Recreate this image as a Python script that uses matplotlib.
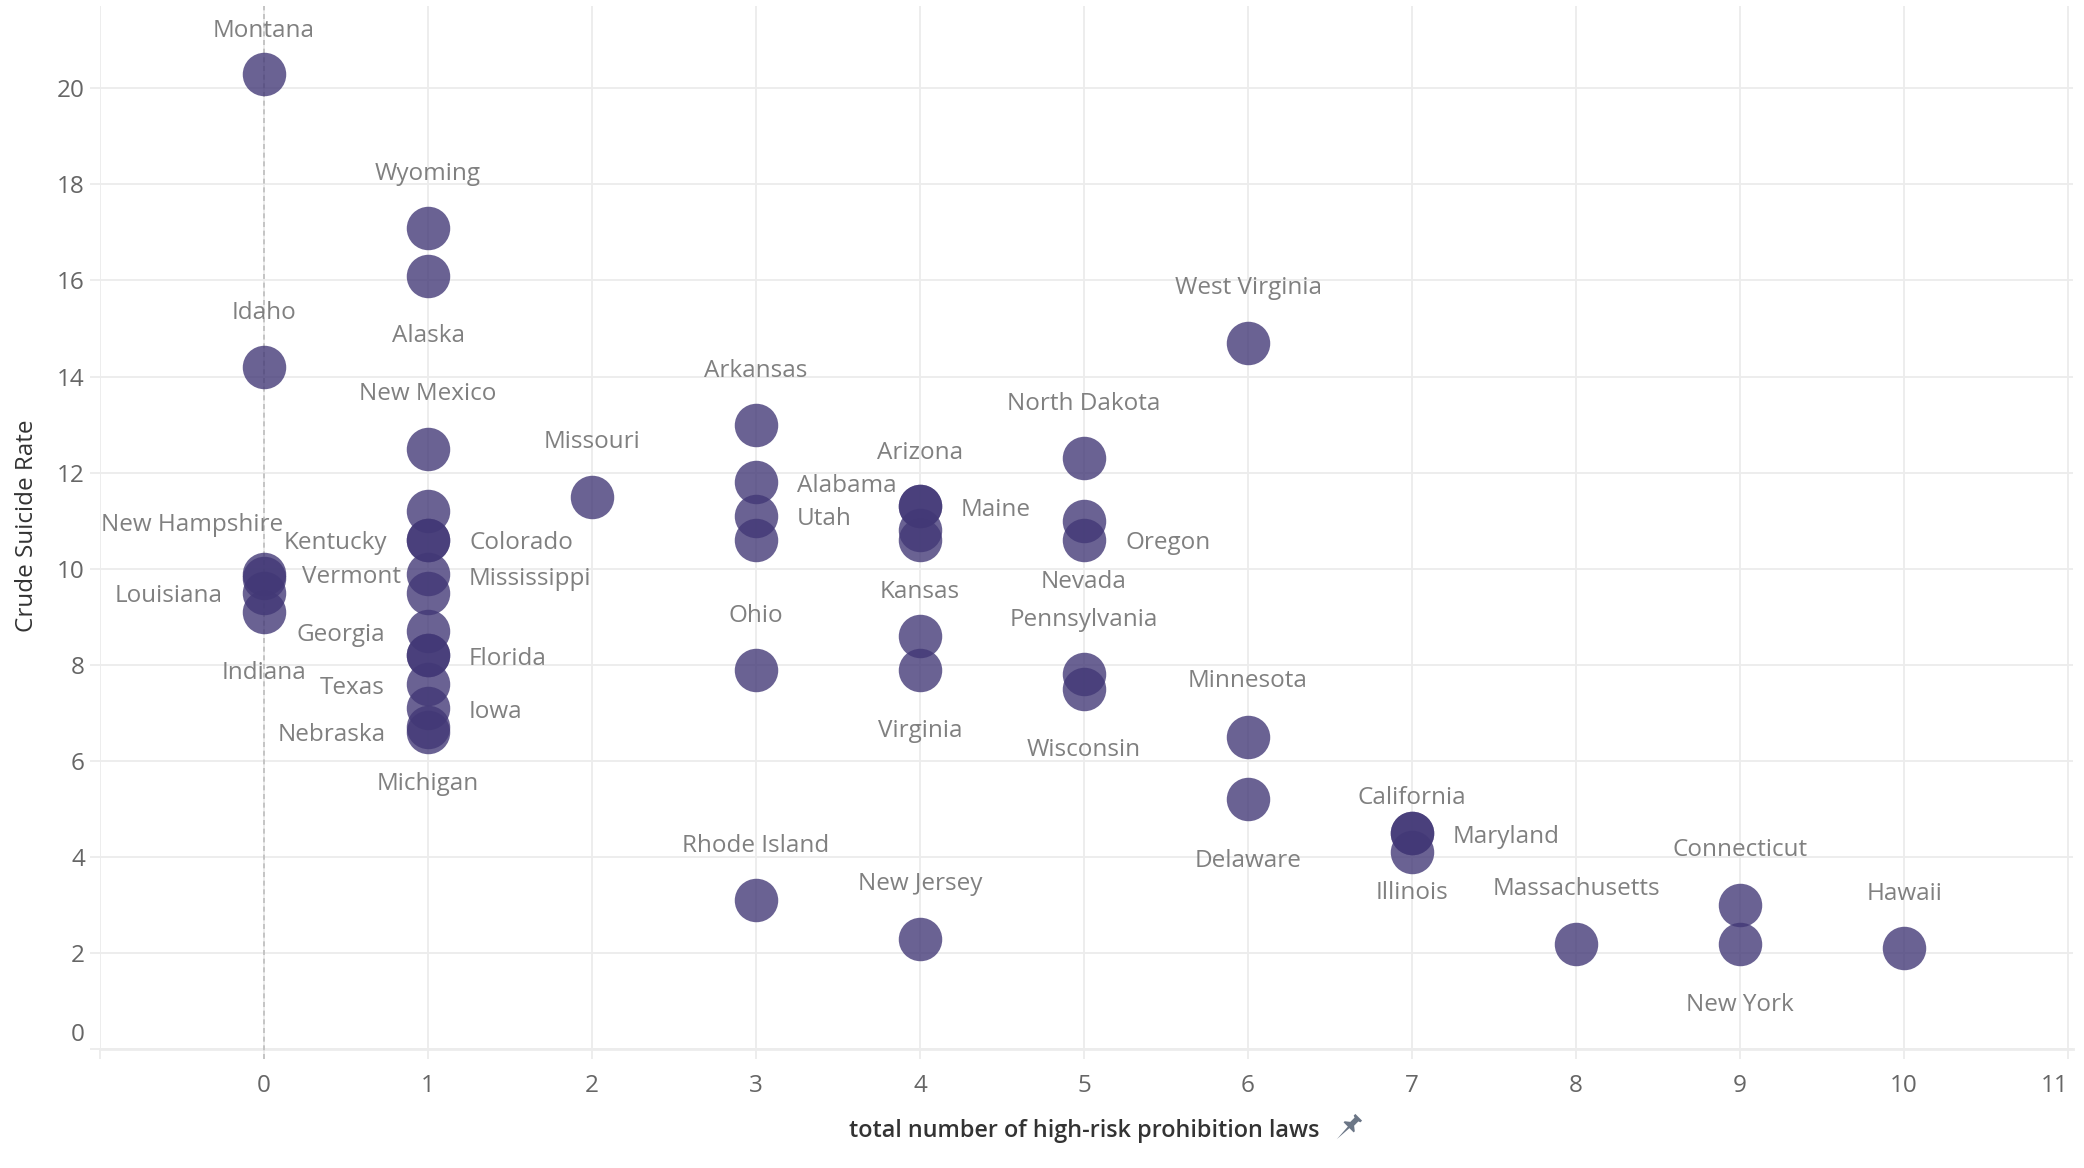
import numpy as np
import matplotlib
matplotlib.use("Agg")
import matplotlib.pyplot as plt
from matplotlib.path import Path

plt.rcParams['font.family'] = ['Open Sans', 'DejaVu Sans']

# ---------------- data ----------------
states = ["Montana", "Idaho", "New Hampshire", "", "Louisiana", "Indiana",
          "Wyoming", "Alaska", "New Mexico", "", "Kentucky", "Colorado",
          "Vermont", "Mississippi", "Georgia", "Florida", "", "Texas", "Iowa",
          "Nebraska", "Michigan",
          "Missouri",
          "Arkansas", "Alabama", "Utah", "", "Ohio", "Rhode Island",
          "Arizona", "Maine", "", "", "Kansas", "Virginia", "New Jersey",
          "North Dakota", "Nevada", "Oregon", "Pennsylvania", "Wisconsin",
          "West Virginia", "Minnesota", "Delaware",
          "California", "Maryland", "Illinois",
          "Massachusetts",
          "Connecticut", "New York",
          "Hawaii"]
laws = [0, 0, 0, 0, 0, 0,
        1, 1, 1, 1, 1, 1, 1, 1, 1, 1, 1, 1, 1, 1, 1,
        2,
        3, 3, 3, 3, 3, 3,
        4, 4, 4, 4, 4, 4, 4,
        5, 5, 5, 5, 5,
        6, 6, 6,
        7, 7, 7,
        8,
        9, 9,
        10]
rates = [20.3, 14.2, 9.9, 9.8, 9.5, 9.1,
         17.1, 16.1, 12.5, 11.2, 10.6, 10.6, 9.9, 9.5, 8.7, 8.2, 8.2, 7.6, 7.1, 6.7, 6.6,
         11.5,
         13.0, 11.8, 11.1, 10.6, 7.9, 3.1,
         11.3, 11.3, 10.8, 10.6, 8.6, 7.9, 2.3,
         12.3, 11.0, 10.6, 7.8, 7.5,
         14.7, 6.5, 5.2,
         4.5, 4.5, 4.1,
         2.2,
         3.0, 2.2,
         2.1]
x_ticks = list(range(-1, 12))
x_tick_labels = [""] + [str(i) for i in range(0, 12)]
y_ticks = list(range(0, 21, 2))
y_tick_labels = [str(v) for v in y_ticks]

# label placement (pixel offsets from mark centre)
UP, DN, LT, RT = "above", "below", "left", "right"
placement = {
    "Montana": (UP, 0, 46), "Idaho": (UP, 0, 57), "New Hampshire": ("free", -72, 52),
    "Louisiana": (LT, -41, 0), "Indiana": (DN, 0, -58),
    "Wyoming": (UP, 0, 57), "Alaska": (DN, 0, -57), "New Mexico": (UP, 0, 58),
    "Kentucky": (LT, -41, 0), "Colorado": (RT, 41, 0), "Vermont": (LT, -27, 0),
    "Mississippi": (RT, 41, 17), "Georgia": (LT, -43, 0), "Florida": (RT, 41, 0),
    "Texas": (LT, -43, 0), "Iowa": (RT, 41, 0), "Nebraska": (LT, -42, -4),
    "Michigan": (DN, 0, -48), "Missouri": (UP, 0, 58), "Arkansas": (UP, 0, 57),
    "Alabama": (RT, 41, 0), "Utah": (RT, 41, 0), "Ohio": (UP, 0, 57),
    "Rhode Island": (UP, 0, 58), "Arizona": (UP, 0, 57), "Maine": (RT, 41, 0),
    "Kansas": (UP, 0, 48), "Virginia": (DN, 0, -58), "New Jersey": (UP, 0, 58),
    "North Dakota": (UP, 0, 58), "Nevada": (DN, 0, -58), "Oregon": (RT, 41, 0),
    "Pennsylvania": (UP, 0, 58), "Wisconsin": (DN, 0, -58),
    "West Virginia": (UP, 0, 58), "Minnesota": (UP, 0, 59), "Delaware": (DN, 0, -58),
    "California": (UP, 0, 39), "Maryland": (RT, 41, 0), "Illinois": (DN, 0, -37),
    "Massachusetts": (UP, 0, 58), "Connecticut": (UP, 0, 59), "New York": (DN, 0, -58),
    "Hawaii": (UP, 0, 58),
}
LABEL_SHIFT_PX = -3.5  # visual centring correction

# ---------------- figure ----------------
W, H, DPI = 2084, 1168, 100
fig = plt.figure(figsize=(W / DPI, H / DPI), dpi=DPI)
left_px, right_px, top_px, bottom_px = 100, 2073, 6, 1049.3
ax = fig.add_axes([left_px / W, 1 - bottom_px / H, (right_px - left_px) / W, (bottom_px - top_px) / H])
ax.set_xlim(-1, 11.03)
ax.set_ylim(0, 21.71)

grid_c = "#ececec"
for s in ax.spines.values():
    s.set_visible(False)
ax.grid(True, color=grid_c, lw=1.3, zorder=0)
ax.set_axisbelow(True)
ax.axhline(0, color=grid_c, lw=2.0, clip_on=False, zorder=1)

px2pt = 72 / DPI
ax.set_xticks(x_ticks)
ax.set_xticklabels(x_tick_labels)
ax.set_yticks(y_ticks)
ax.set_yticklabels([""] + y_tick_labels[1:])
ax.tick_params(axis="both", length=10 * px2pt, width=1.3, color=grid_c,
               labelcolor="#666666", labelsize=17.5)
ax.tick_params(axis="y", pad=5 * px2pt)
ax.tick_params(axis="x", pad=15 * px2pt)
xt = ax.get_xticklabels()
xt[-1].set_ha("right")

ytrans = ax.get_yaxis_transform()
ax.annotate(y_tick_labels[0], xy=(0, 0), xycoords=ytrans, xytext=(-15 * px2pt, 2 * px2pt),
            textcoords="offset points", ha="right", va="bottom", fontsize=17.5, color="#666666",
            annotation_clip=False)

# reference line at zero
ax.axvline(0, ymin=-10 / (bottom_px - top_px), ymax=1, color="#bdbdbd", lw=1.2,
           ls=(0, (3, 2.2)), clip_on=False, zorder=1)

# marks
ax.scatter(laws, rates, s=980, color="#423876", alpha=0.79, linewidths=0, zorder=3)

# labels
for name, xv, yv in zip(states, laws, rates):
    if not name:
        continue
    pos, dx, dy = placement[name]
    ha = {"left": "right", "right": "left"}.get(pos, "center")
    ax.annotate(name, (xv, yv), xytext=(dx * px2pt, (dy + LABEL_SHIFT_PX) * px2pt),
                textcoords="offset points", ha=ha, va="center", fontsize=17.5,
                color="#808080", zorder=4)

# axis titles
fig.text(1084 / W, 1 - 1131 / H, "total number of high-risk prohibition laws",
         ha="center", va="center", fontsize=16.8, fontweight="semibold", color="#333333")
fig.text(26.6 / W, 1 - 525.6 / H, "Crude Suicide Rate", rotation=90,
         ha="center", va="center", fontsize=17.5, fontweight="medium", color="#333333")

# pin icon next to the x title
verts = np.array([(-0.3, 1.0), (0.3, 1.0), (0.3, 0.85), (0.17, 0.8), (0.17, 0.42),
                  (0.45, 0.2), (0.45, 0.1), (0.07, 0.1), (0.0, -0.95), (-0.07, 0.1),
                  (-0.45, 0.1), (-0.45, 0.2), (-0.17, 0.42), (-0.17, 0.8), (-0.3, 0.85),
                  (-0.3, 1.0)])
th = np.deg2rad(45)
rot = np.array([[np.cos(th), np.sin(th)], [-np.sin(th), np.cos(th)]])
verts = verts @ rot.T
codes = [Path.MOVETO] + [Path.LINETO] * (len(verts) - 2) + [Path.CLOSEPOLY]
pin = Path(verts, codes)
fig.lines.append(plt.Line2D([1347 / W], [1 - 1128 / H], marker=pin, markersize=21,
                            color="#6b7686", markeredgewidth=0, linestyle="none",
                            transform=fig.transFigure, figure=fig))

fig.savefig("out.png", dpi=DPI)
